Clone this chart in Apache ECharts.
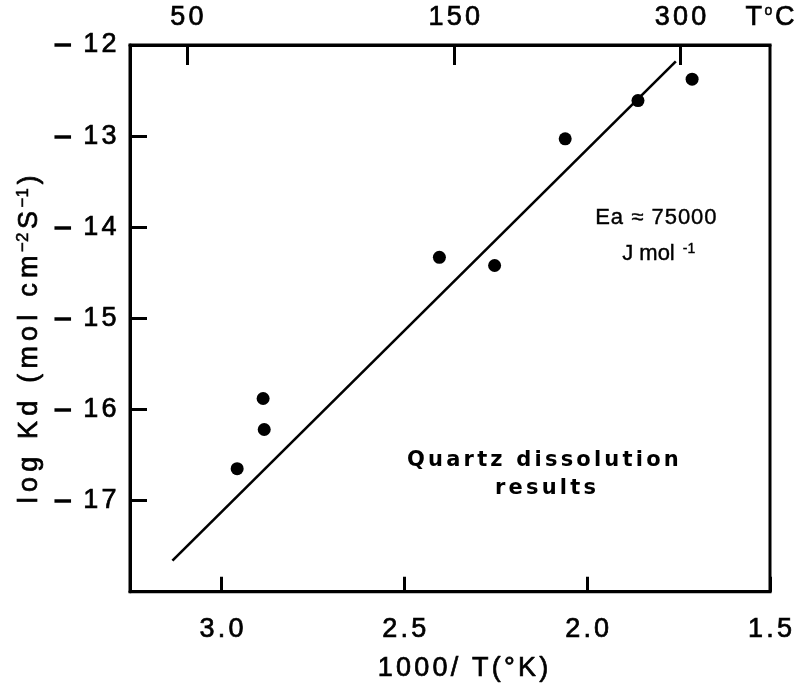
<!DOCTYPE html>
<html>
<head>
<meta charset="utf-8">
<script src="https://cdn.jsdelivr.net/npm/echarts@6/dist/echarts.min.js"></script>
<style>
  html, body { margin: 0; padding: 0; background: #fff; }
  #chart { width: 811px; height: 687px; }
</style>
</head>
<body>
<div id="chart"></div>
<script>
// Measured rate constants against reciprocal temperature (1000/T, K^-1)
const invT  = [2.957, 2.886, 2.883, 2.404, 2.253, 2.060, 1.861, 1.713];
const logKd = [-16.65, -15.88, -16.22, -14.33, -14.42, -13.03, -12.61, -12.375];

// End points of the fitted Arrhenius line
const fitInvT  = [3.134, 1.7575];
const fitLogKd = [-17.66, -12.18];

// Axis ticks
const xTickValues = [3.0, 2.5, 2.0, 1.5];
const yTickValues = [-17, -16, -15, -14, -13, -12];
const topTempC    = [50, 150, 300];

const FONT = '"Liberation Sans", Arial, Helvetica, sans-serif';
const topTickPos = topTempC.map(t => 1000 / (t + 273.15));

// Rich-text string with one token per character, so each glyph gets side padding
function spaced(str, key) {
  return str.split('').map(c => '{' + key + '|' + c + '}').join('');
}

// Letter-spaced text style shared by labels and titles
function letterStyle(size, pad, border) {
  return { fontSize: size, fontFamily: FONT, color: '#000', textBorderColor: '#000', textBorderWidth: border == null ? 0.7 : border, padding: [0, pad, 0, pad] };
}
function supStyle(size, lift) {
  return { fontSize: size, fontFamily: FONT, color: '#000', textBorderColor: '#000', textBorderWidth: 0.5, verticalAlign: 'top', padding: [0, 1, lift, 1] };
}

const chart = echarts.init(document.getElementById('chart'), null, { renderer: 'canvas' });

const axisLineStyle = { color: '#000', width: 3 };
const tickRich = { t: letterStyle(27, 1.6) };

chart.setOption({
  animation: false,
  backgroundColor: '#fff',
  grid: { left: 130, right: 41, top: 45, bottom: 94, show: true, borderColor: '#000', borderWidth: 3, backgroundColor: 'transparent' },
  xAxis: [
    {
      type: 'value', position: 'bottom', min: 1.5, max: 3.25, inverse: true,
      axisLine: { show: true, lineStyle: axisLineStyle },
      axisTick: { show: true, inside: true, length: 15, customValues: xTickValues, lineStyle: axisLineStyle },
      axisLabel: { customValues: xTickValues, margin: 24, rich: tickRich, formatter: v => spaced(v.toFixed(1), 't') },
      splitLine: { show: false },
      name: spaced('1000/ T(°K)', 't'), nameLocation: 'middle', nameGap: 63,
      nameTextStyle: { padding: [0, 0, 0, 26], rich: { t: letterStyle(27, 1.6) } }
    },
    {
      type: 'value', position: 'top', min: 1.5, max: 3.25, inverse: true,
      axisLine: { show: true, lineStyle: axisLineStyle },
      axisTick: { show: true, inside: true, length: 20, customValues: topTickPos, lineStyle: axisLineStyle },
      axisLabel: {
        customValues: topTickPos.concat([1.5]), margin: 14,
        rich: { t: letterStyle(27, 1.6), deg: supStyle(14, 11) },
        formatter: v => v === 1.5
          ? spaced('T', 't') + '{deg|o}' + spaced('C', 't')
          : spaced(String(Math.round(1000 / v - 273.15)), 't')
      },
      splitLine: { show: false }
    }
  ],
  yAxis: {
    type: 'value', min: -18, max: -12,
    axisLine: { show: true, lineStyle: axisLineStyle },
    axisTick: { show: true, inside: true, length: 17, customValues: yTickValues, lineStyle: axisLineStyle },
    axisLabel: {
      customValues: yTickValues, margin: 12,
      rich: { t: letterStyle(27, 1.6), m: letterStyle(27, 0.5, 1.6) },
      formatter: v => '{m|\u2013}{t| }' + spaced(String(Math.abs(v)), 't')
    },
    splitLine: { show: false },
    name: spaced('log Kd (mol cm', 't') + '{sup|\u22122}' + spaced('S', 't') + '{sup|\u22121}' + spaced(')', 't'),
    nameLocation: 'middle', nameRotate: 90, nameGap: 84,
    nameTextStyle: {
      padding: [0, 42, 0, 0],
      rich: { t: letterStyle(27, 2.6), sup: supStyle(17, 13) }
    }
  },
  series: [
    {
      type: 'line', xAxisIndex: 0, yAxisIndex: 0,
      data: fitInvT.map((x, i) => [x, fitLogKd[i]]),
      showSymbol: false, silent: true,
      lineStyle: { color: '#000', width: 2.6 }
    },
    {
      type: 'scatter', xAxisIndex: 0, yAxisIndex: 0,
      data: invT.map((x, i) => [x, logKd[i]]),
      symbol: 'circle', symbolSize: 13, silent: true,
      itemStyle: { color: '#000', opacity: 1 }
    }
  ],
  graphic: [
    {
      type: 'text', left: 595, top: 207, silent: true,
      style: {
        text: spaced('Ea \u2248 75000', 'e'),
        rich: { e: { fontSize: 22, fontFamily: FONT, fill: '#000', stroke: '#000', lineWidth: 0.4, padding: [0, 0.5, 0, 0.5] } }
      }
    },
    {
      type: 'text', left: 622, top: 242, silent: true,
      style: {
        text: '{e|J mol }{sup|-1}',
        rich: {
          e: { fontSize: 22, fontFamily: FONT, fill: '#000', stroke: '#000', lineWidth: 0.4 },
          sup: { fontSize: 14, fontFamily: FONT, fill: '#000', stroke: '#000', lineWidth: 0.4, verticalAlign: 'top', padding: [0, 0, 10, 2] }
        }
      }
    },
    {
      type: 'text', left: 407, top: 450, silent: true,
      style: {
        text: spaced('Quartz dissolution', 'q'),
        rich: { q: { fontSize: 21, fontWeight: 'bold', fontFamily: '"DejaVu Sans", sans-serif', fill: '#000', padding: [0, 1.6, 0, 1.6] } }
      }
    },
    {
      type: 'text', left: 495, top: 478, silent: true,
      style: {
        text: spaced('results', 'q'),
        rich: { q: { fontSize: 21, fontWeight: 'bold', fontFamily: '"DejaVu Sans", sans-serif', fill: '#000', padding: [0, 1.6, 0, 1.6] } }
      }
    }
  ]
});
</script>
</body>
</html>
